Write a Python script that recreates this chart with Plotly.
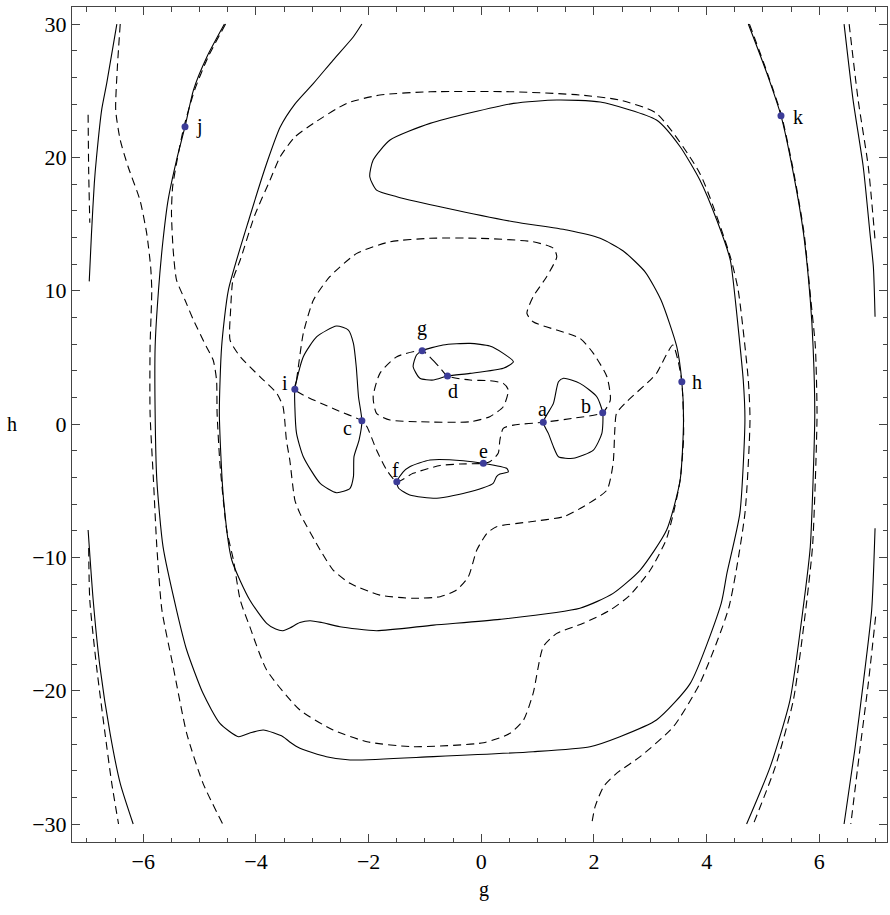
import plotly.graph_objects as go

# ---------------- data (g, h) ----------------
# long solid contour (enters top-left via j, loops, exits top)
main_solid_g = [-4.56, -4.87, -5.11, -5.26, -5.41, -5.56, -5.65, -5.73, -5.79, -5.79, -5.76, -5.65, -5.41, -5.23,
                -4.94, -4.64, -4.31, -4.11, -3.87, -3.52, -3.40, -3.22, -2.75, -2.33, -0.85, 0.92, 1.93, 2.46, 3.11,
                3.71, 4.26, 4.36, 4.59, 4.68, 4.65, 4.47, 4.42, 4.18, 3.88, 3.53, 3.11, 2.11, 1.34, 0.57, -0.91,
                -1.62, -1.92, -1.98, -1.86, -1.50, -0.61, 0.57, 1.52, 2.11, 2.52, 2.91, 3.19, 3.47, 3.56, 3.59,
                3.53, 3.29, 2.82, 2.34, 1.75, 0.33, -0.85, -1.86, -2.51, -2.83, -3.04, -3.22, -3.40, -3.52, -3.65,
                -3.81, -4.11, -4.43, -4.58, -4.65, -4.61, -4.49, -4.11, -3.79, -3.57, -3.31, -2.98, -2.63, -2.27,
                -2.12]
main_solid_h = [30.0, 27.55, 25.05, 22.3, 19.8, 16.8, 13.8, 10.05, 5.8, 0.8, -4.2, -9.2, -13.95, -16.95,
                -20.2, -22.45, -23.45, -23.18, -22.95, -23.45, -23.85, -24.32, -24.95, -25.2, -24.95, -24.58, -24.2,
                -23.45, -22.2, -19.45, -13.43, -11.2, -6.7, 0.3, 3.3, 10.8, 12.3, 15.3, 18.3, 20.8, 22.8, 24.15,
                24.3, 24.05, 22.55, 21.3, 19.8, 18.55, 17.55, 17.05, 16.18, 15.17, 14.55, 13.93, 12.98, 11.4, 9.3,
                5.8, 3.17, 0.3, -4.2, -7.95, -10.95, -12.7, -13.82, -14.65, -15.08, -15.5, -15.2, -14.89, -14.75,
                -14.89, -15.3, -15.5, -15.38, -14.95, -13.2, -10.2, -5.45, 0.8, 5.8, 10.05, 15.55, 19.8, 22.28,
                24.0, 25.55, 27.3, 29.05, 30.0]

# long dashed contour
main_dash_g = [-4.54, -4.85, -5.09, -5.28, -5.40, -5.48, -5.50, -5.47, -5.41, -5.26,
               -5.11, -4.88, -4.76, -4.70, -4.69, -4.64, -4.52, -4.40, -4.28, -4.11,
               -3.81, -3.22, -2.63, -2.03, -1.21, 0.04, 0.51, 0.75, 0.92, 1.10,
               1.34, 1.81, 2.29, 2.64, 3.00, 3.28, 3.41, 3.53, 3.59, 3.59,
               3.56, 3.49, 3.40, 3.11, 3.00, 2.58, 2.40, 2.37, 2.34, 2.23,
               1.81, 1.46, 0.87, 0.27, 0.10, -0.08, -0.23, -0.44, -0.73, -1.21,
               -1.80, -2.33, -2.63, -2.86, -3.22, -3.31, -3.40, -3.46, -3.49, -3.52,
               -3.63, -3.93, -4.28, -4.46, -4.45, -4.41, -4.28, -4.02, -3.75, -3.57,
               -3.31, -2.98, -2.39, -1.80, -0.91, 0.57, 1.75, 2.46, 3.11, 3.88,
               4.42, 4.56, 4.74, 4.77, 4.68, 4.39, 3.88, 3.41, 2.82, 2.40,
               2.17, 2.02, 1.96]
main_dash_h = [30.0, 27.53, 25.05, 22.28, 19.8, 17.78, 15.83, 13.05, 10.8, 9.3,
               7.8, 5.8, 4.8, 3.3, 0.8, -2.95, -7.95, -10.2, -13.2, -15.2,
               -18.45, -21.45, -22.95, -23.83, -24.2, -23.9, -23.2, -22.2, -20.2, -16.7,
               -15.7, -14.95, -13.95, -12.83, -10.95, -8.7, -6.7, -4.2, -1.2, 0.3,
               3.17, 4.8, 5.93, 3.8, 3.3, 1.67, 0.8, -0.45, -2.95, -4.95,
               -6.2, -6.95, -7.33, -7.7, -8.2, -9.45, -11.45, -12.45, -12.95, -13.07,
               -12.83, -11.95, -10.95, -9.45, -6.7, -5.7, -2.7, -1.2, 0.3, 1.3,
               2.3, 3.55, 5.05, 6.3, 8.55, 10.8, 12.3, 15.68, 18.3, 20.05,
               21.53, 22.55, 24.05, 24.68, 24.92, 24.92, 24.68, 24.3, 23.3, 18.8,
               12.55, 10.05, 3.3, 0.3, -6.7, -13.82, -19.45, -22.7, -24.95, -26.2,
               -27.2, -28.7, -30.0]

# left dashed contour
left_dash_g = [-6.41, -6.46, -6.49, -6.41, -6.27, -6.06, -5.94, -5.87, -5.85, -5.88, -5.88, -5.82, -5.76,
               -5.67, -5.47, -5.23, -4.94, -4.59]
left_dash_h = [30.0, 26.8, 23.55, 21.3, 19.3, 16.8, 14.3, 11.8, 10.05, 5.8, 0.8, -4.2, -9.2,
               -13.95, -18.2, -23.2, -26.95, -30.0]

# closed dashed loop through i, b, a, e, f, c
loop_dash_g = [-3.31, -3.28, -3.16, -2.98, -2.69, -2.21, -1.62, -0.91, -0.02, 0.92, 1.28, 1.34, 1.16, 0.92,
               0.81, 0.92, 1.75, 1.99, 2.23, 2.29, 2.155, 1.66, 1.10, 0.57, 0.39, 0.33, 0.30, 0.15, 0.036,
               -0.38, -0.73, -1.21, -1.50, -1.68, -1.86, -2.03, -2.12, -2.57, -3.31]
loop_dash_h = [2.6, 3.3, 6.8, 9.3, 11.05, 12.8, 13.67, 13.93, 13.93, 13.67, 13.18, 12.55, 11.05, 9.55,
               8.3, 7.67, 6.43, 5.3, 3.55, 1.8, 0.85, 0.45, 0.13, -0.08, -0.32, -1.2, -2.2, -2.83, -2.95,
               -3.0, -3.11, -3.7, -4.33, -3.45, -1.95, -0.2, 0.25, 1.05, 2.6]

# inner dashed loop through g, d
inner_dash_g = [-1.05, -0.86, -0.73, -0.60, -0.20, 0.15, 0.39, 0.48, 0.39, 0.15, -0.20, -1.09, -1.62, -1.86,
                -1.92, -1.80, -1.50, -1.05]
inner_dash_h = [5.5, 4.8, 4.2, 3.6, 3.3, 3.25, 3.05, 2.55, 1.3, 0.55, 0.17, 0.17, 0.3, 0.8,
                2.05, 3.8, 5.05, 5.5]

# small solid loops
gd_loop_g = [-1.05, -0.68, -0.20, 0.15, 0.39, 0.57, 0.39, -0.20, -0.60, -0.85, -1.09, -1.21, -1.15, -1.05]
gd_loop_h = [5.5, 5.93, 6.05, 5.85, 5.3, 4.67, 4.18, 3.8, 3.6, 3.3, 3.43, 4.3, 5.18, 5.5]
ef_loop_g = [-1.50, -1.39, -1.27, -0.91, -0.32, 0.036, 0.45, 0.48, 0.33, 0.27, 0.21, -0.20, -0.79, -1.27, -1.47, -1.50]
ef_loop_h = [-4.33, -3.6, -3.2, -2.7, -2.75, -2.95, -3.32, -3.58, -3.75, -3.94, -4.45, -5.08, -5.57, -5.33, -4.8, -4.33]
ic_loop_g = [-3.31, -3.16, -2.92, -2.57, -2.36, -2.27, -2.22, -2.18, -2.12, -2.17, -2.26, -2.27, -2.33, -2.57,
             -2.86, -3.16, -3.28, -3.31, -3.31]
ic_loop_h = [2.6, 5.05, 6.55, 7.35, 7.05, 6.05, 4.3, 2.05, 0.25, -1.2, -2.45, -3.95, -4.82, -5.15,
             -4.45, -2.45, -0.7, 1.3, 2.6]
ab_loop_g = [1.10, 1.28, 1.37, 1.46, 1.75, 2.05, 2.155, 2.14, 1.99, 1.63, 1.37, 1.28, 1.19, 1.10]
ab_loop_h = [0.13, 1.55, 3.17, 3.43, 3.05, 2.05, 0.85, -0.7, -1.95, -2.57, -2.45, -1.7, -0.7, 0.13]

# right curve through k
k_solid_g = [4.74, 5.07, 5.32, 5.54, 5.72, 5.84, 5.89, 5.92, 5.89, 5.84, 5.72, 5.48, 5.13, 4.71]
k_solid_h = [30.0, 26.3, 23.13, 18.8, 14.3, 9.3, 5.8, 0.8, -4.2, -9.2, -13.58, -20.7, -25.7, -30.0]
k_dash_g = [4.76, 5.08, 5.33, 5.55, 5.73, 5.85, 5.93, 5.96, 5.93, 5.88, 5.78, 5.54, 5.22, 4.83]
k_dash_h = [30.0, 26.3, 23.13, 18.8, 14.3, 9.3, 5.8, 0.8, -4.2, -9.2, -13.2, -20.7, -25.7, -30.0]

# edge pieces
fl_top_solid_g = [-6.96, -6.92, -6.87, -6.83, -6.74, -6.65, -6.47]
fl_top_solid_h = [10.7, 14.3, 18.05, 20.05, 23.55, 25.55, 30.0]
fl_top_dash_g = [-6.98, -6.97, -6.95]
fl_top_dash_h = [23.2, 19.0, 15.1]
fl_bot_solid_g = [-6.98, -6.89, -6.77, -6.59, -6.41, -6.18]
fl_bot_solid_h = [-7.95, -13.2, -18.2, -23.2, -26.95, -30.0]
fl_bot_dash_g = [-6.97, -6.95, -6.83, -6.68, -6.56, -6.44]
fl_bot_dash_h = [-9.3, -13.2, -18.2, -23.2, -26.95, -30.0]
fr_top_solid_g = [6.44, 6.60, 6.78, 6.90, 6.96, 6.99]
fr_top_solid_h = [30.0, 24.3, 19.3, 14.3, 11.8, 8.05]
fr_top_dash_g = [6.53, 6.69, 6.87, 6.99]
fr_top_dash_h = [30.0, 24.3, 19.3, 13.8]
fr_bot_solid_g = [6.99, 6.93, 6.78, 6.63, 6.44]
fr_bot_solid_h = [-7.82, -13.95, -19.45, -24.45, -30.0]
fr_bot_dash_g = [7.0, 6.87, 6.72, 6.56]
fr_bot_dash_h = [-14.45, -19.45, -24.45, -30.0]

# labelled points
point_names = ["a", "b", "c", "d", "e", "f", "g", "h", "i", "j", "k"]
point_g = [1.10, 2.155, -2.12, -0.60, 0.036, -1.50, -1.05, 3.56, -3.31, -5.26, 5.32]
point_h = [0.13, 0.85, 0.25, 3.6, -2.95, -4.33, 5.5, 3.17, 2.6, 22.3, 23.13]

x_ticks = [-6, -4, -2, 0, 2, 4, 6]
y_ticks = [-30, -20, -10, 0, 10, 20, 30]

# ---------------- styling ----------------
FONT = "Liberation Serif"
FRAME = "#444444"
label_shift = {"a": (-1, 13), "b": (-17, 7), "c": (-14, -7), "d": (5, -15), "e": (0, 12), "f": (-1, 12),
               "g": (0, 22), "h": (15, 0), "i": (-10, 6), "j": (14, 0), "k": (17, -1)}

fig = go.Figure()


def add_curve(gs, hs, dashed):
    fig.add_trace(go.Scatter(
        x=gs, y=hs, mode="lines", hoverinfo="skip", showlegend=False,
        line=dict(color="black", width=1.1, dash="8px,5px" if dashed else "solid",
                  shape="spline", smoothing=0.6)))


solid_curves = [(main_solid_g, main_solid_h), (gd_loop_g, gd_loop_h), (ef_loop_g, ef_loop_h),
                (ic_loop_g, ic_loop_h), (ab_loop_g, ab_loop_h), (k_solid_g, k_solid_h),
                (fl_top_solid_g, fl_top_solid_h), (fl_bot_solid_g, fl_bot_solid_h),
                (fr_top_solid_g, fr_top_solid_h), (fr_bot_solid_g, fr_bot_solid_h)]
dashed_curves = [(main_dash_g, main_dash_h), (left_dash_g, left_dash_h), (loop_dash_g, loop_dash_h),
                 (inner_dash_g, inner_dash_h), (k_dash_g, k_dash_h),
                 (fl_top_dash_g, fl_top_dash_h), (fl_bot_dash_g, fl_bot_dash_h),
                 (fr_top_dash_g, fr_top_dash_h), (fr_bot_dash_g, fr_bot_dash_h)]
for gs, hs in solid_curves:
    add_curve(gs, hs, False)
for gs, hs in dashed_curves:
    add_curve(gs, hs, True)

fig.add_trace(go.Scatter(x=point_g, y=point_h, mode="markers", hoverinfo="skip", showlegend=False,
                         marker=dict(color="#3c3c98", size=7, line=dict(width=0))))

for name, gx, hy in zip(point_names, point_g, point_h):
    dx, dy = label_shift[name]
    fig.add_annotation(x=gx, y=hy, text=name, showarrow=False, xanchor="center", yanchor="middle",
                       xshift=dx, yshift=dy, font=dict(family=FONT, size=20, color="black"))

fig.add_annotation(xref="paper", yref="paper", x=-0.0736, y=0.5006, text="h", showarrow=False,
                   xanchor="center", yanchor="middle", font=dict(family=FONT, size=20, color="black"))
fig.add_annotation(xref="paper", yref="paper", x=0.5055, y=-0.0565, text="g", showarrow=False,
                   xanchor="center", yanchor="middle", font=dict(family=FONT, size=20, color="black"))

axis_common = dict(showgrid=False, zeroline=False, showline=True, linecolor=FRAME, linewidth=1,
                   mirror="allticks", ticks="inside", ticklen=8, tickwidth=1, tickcolor=FRAME,
                   tickfont=dict(family=FONT, size=22, color="black"))
fig.update_xaxes(range=[-7.266, 7.202], tickvals=x_ticks,
                 minor=dict(ticks="inside", ticklen=4.5, dtick=0.5, tick0=0, tickcolor=FRAME, tickwidth=1,
                            showgrid=False),
                 **axis_common)
fig.update_yaxes(range=[-31.35, 31.28], tickvals=y_ticks,
                 minor=dict(ticks="inside", ticklen=4.5, dtick=2, tick0=0, tickcolor=FRAME, tickwidth=1,
                            showgrid=False),
                 **axis_common)

fig.update_layout(width=890, height=915, margin=dict(l=72, r=3, t=7, b=73, autoexpand=False),
                  plot_bgcolor="white", paper_bgcolor="white", showlegend=False)

fig.write_html("out.html", config={"displayModeBar": False, "staticPlot": True},
               post_script="document.body.style.margin='0px';")
